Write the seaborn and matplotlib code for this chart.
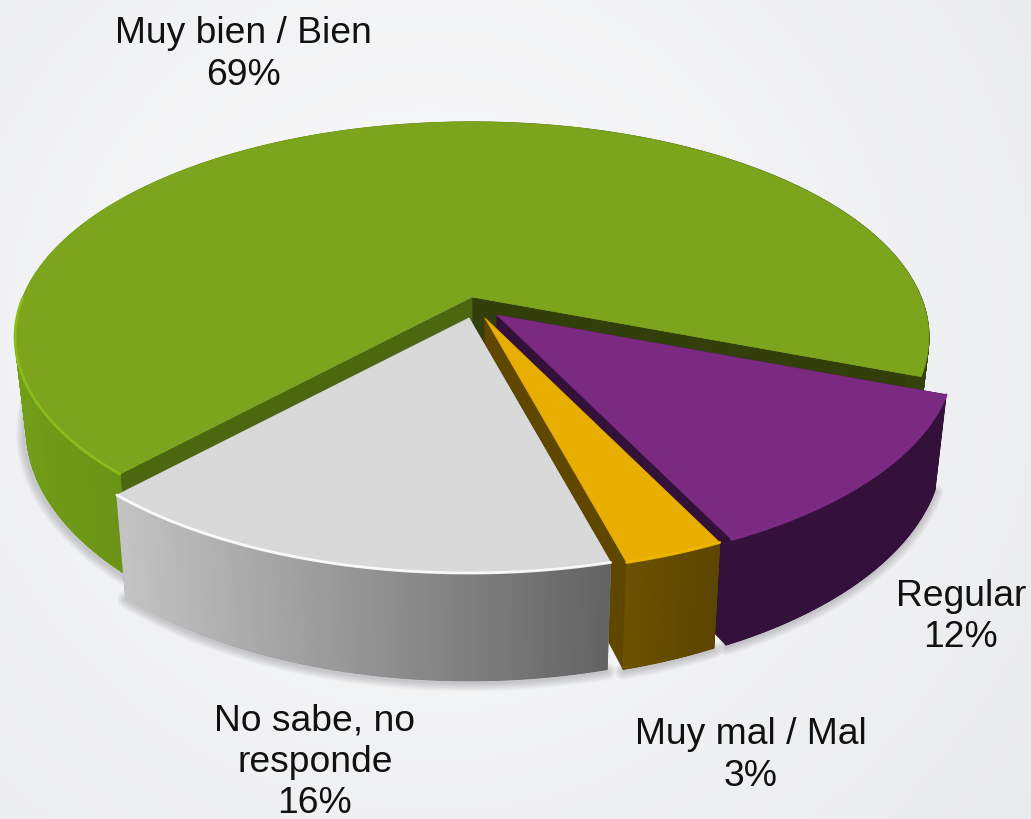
import numpy as np
import matplotlib
matplotlib.use("Agg")
import matplotlib.pyplot as plt
from matplotlib.colors import to_rgb
import seaborn as sns

# ---- data ----
categories = ["Muy bien / Bien", "No sabe, no\nresponde", "Muy mal / Mal", "Regular"]
values = [69, 16, 3, 12]

# ---- style ----
top_colors = ["#7CA51D", "#D9D9D9", "#E8AE00", "#7B2A82"]
wall_left = ["#729E18", "#C4C4C4", "#6C5100", "#33113A"]
wall_right = ["#34420B", "#636363", "#5C4500", "#33113A"]
face_start = ["#333F0A", "#6A6A6A", "#5F4700", "#33113A"]
face_end = ["#4C6710", "#9A9A9A", "#5F4700", "#33113A"]
rim_colors = ["#8DBF1F", "#FFFFFF", "#F2B900", "#7F2C87"]
explode_x = [0, -3, 13, 25]
explode_y = [0, 21, 21, 18]
label_x = [243, 315, 751, 961]
label_y = [54.5, 762, 755.5, 617]

START_ANGLE = -21.0
CX, CY = 472.0, 297.0
RX, RY, K = 449.0, 207.6, 0.186
RX_B, RY_B, DEPTH = RX * 0.975, 222.0, 90.0

sns.set_theme(style="white", palette=sns.color_palette(top_colors))
plt.rcParams["font.family"] = ["Liberation Sans", "DejaVu Sans"]

fig = plt.figure(figsize=(10.31, 8.19), dpi=100)
ax = fig.add_axes([0, 0, 1, 1])
ax.set_xlim(0, 1031)
ax.set_ylim(819, 0)
ax.axis("off")

# soft page background
yy, xx = np.mgrid[0:819:205j, 0:1031:258j]
dist = np.clip(np.hypot(xx - 430, yy - 340) / 800.0, 0, 1)
c0, c1 = np.array(to_rgb("#FBFBFC")), np.array(to_rgb("#E9EAEC"))
ax.imshow(c0 + (c1 - c0) * dist[..., None], extent=(0, 1031, 819, 0),
          aspect="auto", interpolation="bilinear", zorder=0)


def top_xy(ang, ox, oy):
    a = np.radians(ang)
    u, v = np.cos(a), np.sin(a)
    s = 1.0 / (1.0 + K * v)
    return CX + ox + RX * u * s, CY + oy - RY * v * s


def bot_xy(ang, ox, oy):
    a = np.radians(ang)
    u, v = np.cos(a), np.sin(a)
    s = 1.0 / (1.0 + K * v)
    return CX + ox + RX_B * u * s, CY + oy + DEPTH - RY_B * v * s


def mix(a, b, t):
    a, b = np.array(to_rgb(a)), np.array(to_rgb(b))
    return tuple(a + (b - a) * t)


edges = START_ANGLE + np.concatenate([[0], np.cumsum(values)]) * 3.6
ZORDER = {0: 10, 3: 20, 2: 30, 1: 40}

# soft ground shadow below the outer walls
for i, val in enumerate(values):
    a = np.linspace(max(edges[i], 180 if i == 0 else edges[i]), edges[i + 1], 120)
    bx, by = bot_xy(a, explode_x[i], explode_y[i])
    for w in range(2, 14, 2):
        ax.plot(bx - (2 if i == 0 else 0), by + 2, lw=w, color="#30303a", alpha=0.04,
                solid_capstyle="round", zorder=2)

for i, val in enumerate(values):
    ox, oy = explode_x[i], explode_y[i]
    a0, a1 = edges[i], edges[i + 1]
    z = ZORDER[i]
    ang = np.linspace(a0, a1, int((a1 - a0) * 2) + 2)
    tx, ty = top_xy(ang, ox, oy)
    bx, by = bot_xy(ang, ox, oy)

    # cut faces
    ax0, ay0 = CX + ox, CY + oy
    ax1, ay1 = CX + ox, CY + oy + DEPTH
    ax.fill([ax0, tx[0], bx[0], ax1], [ay0, ty[0], by[0], ay1],
            color=face_start[i], lw=0.5, zorder=z)
    ax.fill([ax0, tx[-1], bx[-1], ax1], [ay0, ty[-1], by[-1], ay1],
            color=face_end[i], lw=0.5, zorder=z)

    # outer wall: solid base plus thin shaded strips
    lo, hi = tx.min(), tx.max()
    front = ang >= 180 if i == 0 else np.ones_like(ang, dtype=bool)
    ax.fill(np.r_[tx[front], bx[front][::-1]], np.r_[ty[front], by[front][::-1]],
            color=mix(wall_left[i], wall_right[i], 0.1 if i == 0 else 0.5),
            lw=0.3, zorder=z + 1)
    for j in range(len(ang) - 1):
        t = ((tx[j] + tx[j + 1]) / 2 - lo) / max(hi - lo, 1)
        col = mix(wall_left[i], wall_right[i], t)
        ax.fill([tx[j], tx[j + 1], bx[j + 1], bx[j]],
                [ty[j], ty[j + 1], by[j + 1], by[j]],
                color=col, lw=0.8, zorder=z + 1)

    # top surface
    ax.fill(np.r_[ax0, tx], np.r_[ay0, ty], color=top_colors[i], lw=0.5, zorder=z + 2)

    # bright rim along the front of the top surface
    vis = ang >= 180
    ax.plot(tx[vis], ty[vis], color=rim_colors[i], lw=2.0, zorder=z + 3,
            solid_capstyle="round", alpha=0.9)

for i, cat in enumerate(categories):
    ax.text(label_x[i], label_y[i], f"{cat}\n{values[i]}%", ha="center", va="center",
            fontsize=26.8, color="#111111", linespacing=1.24, zorder=60)

fig.savefig("out.png", dpi=100)
